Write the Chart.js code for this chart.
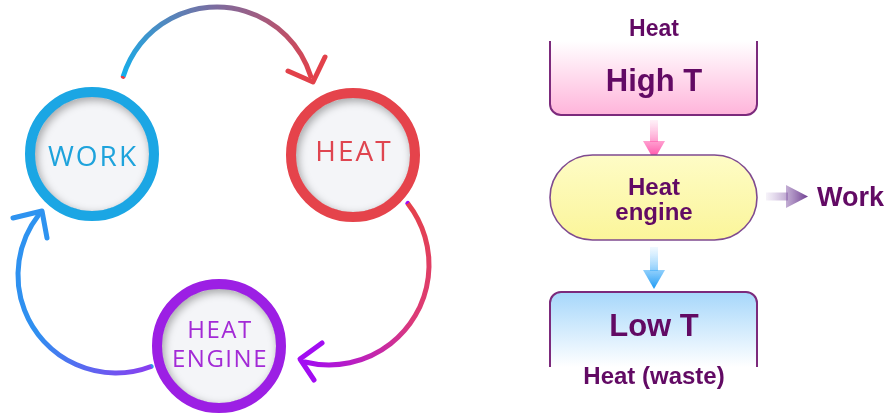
<!DOCTYPE html>
<html>
<head>
<meta charset="utf-8">
<script src="https://cdn.jsdelivr.net/npm/chart.js@4.4.1/dist/chart.umd.min.js"></script>
<style>
  html, body { margin: 0; padding: 0; background: #ffffff; }
  canvas { display: block; }
</style>
</head>
<body>
<canvas id="diagram" width="888" height="415"></canvas>
<script>
// cycle on the left: node names and where they sit
const cycleLabels = ['WORK', 'HEAT', 'HEAT\nENGINE'];
const cycleX = [92, 353, 219];
const cycleY = [154, 155, 346];

// flow diagram on the right, top to bottom
const flowLabels = ['Heat', 'High T', 'Heat\nengine', 'Work', 'Low T', 'Heat (waste)'];

const ringColors = ['#1ba6e4', '#e5434b', '#9c1fe4'];
const labelColors = ['#1ea3dc', '#df4550', '#a32ad6'];
const purpleText = '#620a64';

// curved arrows between the nodes (centre, radius, start/end angle in degrees)
const cycleArcs = [
  { cx: 217, cy: 105, r: 98, a0: 197, a1: 343, c0: '#16aeea', c1: '#e2414a', mid: '#7d6b9e', tip: [313, 82], arms: [[288, 71], [325, 57]] },
  { cx: 329, cy: 265, r: 100, a0: -38, a1: 104, c0: '#e5424b', c1: '#a20cf2', mid: '#dc3a78', tip: [300, 359], arms: [[322, 343], [314, 380]] },
  { cx: 116, cy: 275, r: 98, a0: 69, a1: 218, c0: '#8a3df0', c1: '#2e93f0', mid: '#2f8ff0', tip: [42, 211], arms: [[13, 218], [47, 238]] }
];

const diagramPlugin = {
  id: 'diagram',
  beforeDatasetsDraw(chart) {
    const ctx = chart.ctx;
    const px = v => chart.scales.x.getPixelForValue(v);
    const py = v => chart.scales.y.getPixelForValue(v);

    // arcs of the cycle
    cycleArcs.forEach(a => {
      const cx = px(a.cx), cy = py(a.cy);
      const s = a.a0 * Math.PI / 180, e = a.a1 * Math.PI / 180;
      const span = (a.a1 - a.a0) / 360;
      const g = ctx.createConicGradient(s, cx, cy);
      g.addColorStop(0, a.c0);
      g.addColorStop(span * 0.5, a.mid);
      g.addColorStop(span, a.c1);
      g.addColorStop(1, a.c1);
      ctx.save();
      ctx.lineWidth = 5;
      ctx.lineCap = 'round';
      ctx.lineJoin = 'round';
      ctx.strokeStyle = g;
      ctx.beginPath();
      ctx.arc(cx, cy, a.r, s, e);
      ctx.stroke();
      ctx.strokeStyle = a.c1;
      ctx.beginPath();
      ctx.moveTo(px(a.arms[0][0]), py(a.arms[0][1]));
      ctx.lineTo(px(a.tip[0]), py(a.tip[1]));
      ctx.lineTo(px(a.arms[1][0]), py(a.arms[1][1]));
      ctx.stroke();
      ctx.restore();
    });

    // ---- right hand flow diagram ----
    const L = px(550), R = px(757);
    ctx.save();

    // High T box (open top, rounded bottom)
    let g = ctx.createLinearGradient(0, py(41), 0, py(115));
    g.addColorStop(0, '#ffffff');
    g.addColorStop(1, '#ffb4da');
    ctx.beginPath();
    ctx.moveTo(L, py(41));
    ctx.lineTo(L, py(104));
    ctx.arcTo(L, py(115), L + 11, py(115), 11);
    ctx.lineTo(R - 11, py(115));
    ctx.arcTo(R, py(115), R, py(104), 11);
    ctx.lineTo(R, py(41));
    ctx.fillStyle = g;
    ctx.fill();
    ctx.strokeStyle = '#7c2a7c';
    ctx.lineWidth = 2;
    ctx.stroke();

    // pink arrow down
    g = ctx.createLinearGradient(0, py(120), 0, py(160));
    g.addColorStop(0, 'rgba(255,120,190,0.1)');
    g.addColorStop(1, '#ff3f9f');
    ctx.fillStyle = g;
    ctx.fillRect(px(650), py(120), 8, py(142) - py(120));
    ctx.beginPath();
    ctx.moveTo(px(643), py(141));
    ctx.lineTo(px(665), py(141));
    ctx.lineTo(px(654), py(160));
    ctx.closePath();
    ctx.fill();

    // heat engine pill
    g = ctx.createLinearGradient(0, py(155), 0, py(240));
    g.addColorStop(0, '#fefcc6');
    g.addColorStop(1, '#fbf59a');
    ctx.beginPath();
    ctx.roundRect(L, py(155), R - L, py(240) - py(155), 42.5);
    ctx.fillStyle = g;
    ctx.fill();
    ctx.strokeStyle = '#7f4a90';
    ctx.lineWidth = 1.6;
    ctx.stroke();

    // blue arrow down
    g = ctx.createLinearGradient(0, py(247), 0, py(289));
    g.addColorStop(0, 'rgba(120,200,255,0.1)');
    g.addColorStop(1, '#1a99f4');
    ctx.fillStyle = g;
    ctx.fillRect(px(650), py(247), 8, py(271) - py(247));
    ctx.beginPath();
    ctx.moveTo(px(643), py(270));
    ctx.lineTo(px(665), py(270));
    ctx.lineTo(px(654), py(289));
    ctx.closePath();
    ctx.fill();

    // work arrow right
    g = ctx.createLinearGradient(px(766), 0, px(808), 0);
    g.addColorStop(0, 'rgba(170,140,200,0.1)');
    g.addColorStop(1, '#6e3d90');
    ctx.fillStyle = g;
    ctx.fillRect(px(766), py(192.5), px(788) - px(766), 8);
    ctx.beginPath();
    ctx.moveTo(px(786), py(185));
    ctx.lineTo(px(786), py(208));
    ctx.lineTo(px(808), py(196.5));
    ctx.closePath();
    ctx.fill();

    // Low T box (open bottom, rounded top)
    g = ctx.createLinearGradient(0, py(292), 0, py(367));
    g.addColorStop(0, '#a6d7fb');
    g.addColorStop(1, '#ffffff');
    ctx.beginPath();
    ctx.moveTo(L, py(367));
    ctx.lineTo(L, py(303));
    ctx.arcTo(L, py(292), L + 11, py(292), 11);
    ctx.lineTo(R - 11, py(292));
    ctx.arcTo(R, py(292), R, py(303), 11);
    ctx.lineTo(R, py(367));
    ctx.fillStyle = g;
    ctx.fill();
    ctx.strokeStyle = '#7c2a7c';
    ctx.lineWidth = 2;
    ctx.stroke();

    // flow labels
    ctx.fillStyle = purpleText;
    ctx.textAlign = 'center';
    ctx.textBaseline = 'alphabetic';
    const mx = px(654);
    ctx.font = 'bold 23px "Liberation Sans", Arial, sans-serif';
    ctx.fillText(flowLabels[0], mx, py(36));
    ctx.font = 'bold 31px "Liberation Sans", Arial, sans-serif';
    ctx.fillText(flowLabels[1], mx, py(91));
    ctx.font = 'bold 24px "Liberation Sans", Arial, sans-serif';
    const eng = flowLabels[2].split('\n');
    ctx.fillText(eng[0], mx, py(195));
    ctx.fillText(eng[1], mx, py(220));
    ctx.font = 'bold 27px "Liberation Sans", Arial, sans-serif';
    ctx.textAlign = 'left';
    ctx.fillText(flowLabels[3], px(817), py(206));
    ctx.textAlign = 'center';
    ctx.font = 'bold 31px "Liberation Sans", Arial, sans-serif';
    ctx.fillText(flowLabels[4], mx, py(336));
    ctx.font = 'bold 24px "Liberation Sans", Arial, sans-serif';
    ctx.fillText(flowLabels[5], mx, py(384));
    ctx.restore();
  },
  afterDatasetsDraw(chart) {
    const ctx = chart.ctx;
    const meta = chart.getDatasetMeta(0);
    const baseShift = [12, 6, -8];
    meta.data.forEach((pt, i) => {
      const x = pt.x, y = pt.y;
      // soft inner shadow on the disc
      ctx.save();
      ctx.beginPath();
      ctx.arc(x, y, 57, 0, Math.PI * 2);
      ctx.clip();
      ctx.beginPath();
      ctx.arc(x, y, 62, 0, Math.PI * 2);
      ctx.lineWidth = 10;
      ctx.strokeStyle = ringColors[i];
      ctx.shadowColor = 'rgba(0,0,0,0.35)';
      ctx.shadowBlur = 9;
      ctx.shadowOffsetX = 2;
      ctx.shadowOffsetY = 3;
      ctx.stroke();
      ctx.restore();

      // node text
      ctx.save();
      ctx.fillStyle = labelColors[i];
      ctx.textAlign = 'center';
      ctx.textBaseline = 'alphabetic';
      const lines = cycleLabels[i].split('\n');
      if (lines.length === 1) {
        ctx.font = '28px "Open Sans", sans-serif';
        ctx.letterSpacing = '2px';
        ctx.fillText(lines[0], x + 1, y + baseShift[i]);
      } else {
        ctx.font = '24px "Open Sans", sans-serif';
        ctx.letterSpacing = '1.5px';
        ctx.fillText(lines[0], x + 1, y + baseShift[i]);
        ctx.fillText(lines[1], x + 1, y + baseShift[i] + 29);
      }
      ctx.restore();
    });
  }
};

const ctx = document.getElementById('diagram').getContext('2d');
const diagram = new Chart(ctx, {
  type: 'scatter',
  data: {
    datasets: [{
      label: 'cycle',
      data: cycleX.map((x, i) => ({ x: x, y: cycleY[i] })),
      pointRadius: 62,
      pointHoverRadius: 62,
      pointBorderWidth: 10,
      pointBorderColor: ringColors,
      pointBackgroundColor: '#f4f5f8',
      clip: false
    }]
  },
  options: {
    responsive: false,
    animation: false,
    events: [],
    layout: { padding: 0, autoPadding: false },
    scales: {
      x: { type: 'linear', min: 0, max: 888, display: false },
      y: { type: 'linear', min: 0, max: 415, reverse: true, display: false }
    },
    plugins: {
      legend: { display: false },
      tooltip: { enabled: false }
    }
  },
  plugins: [diagramPlugin]
});
</script>
</body>
</html>
